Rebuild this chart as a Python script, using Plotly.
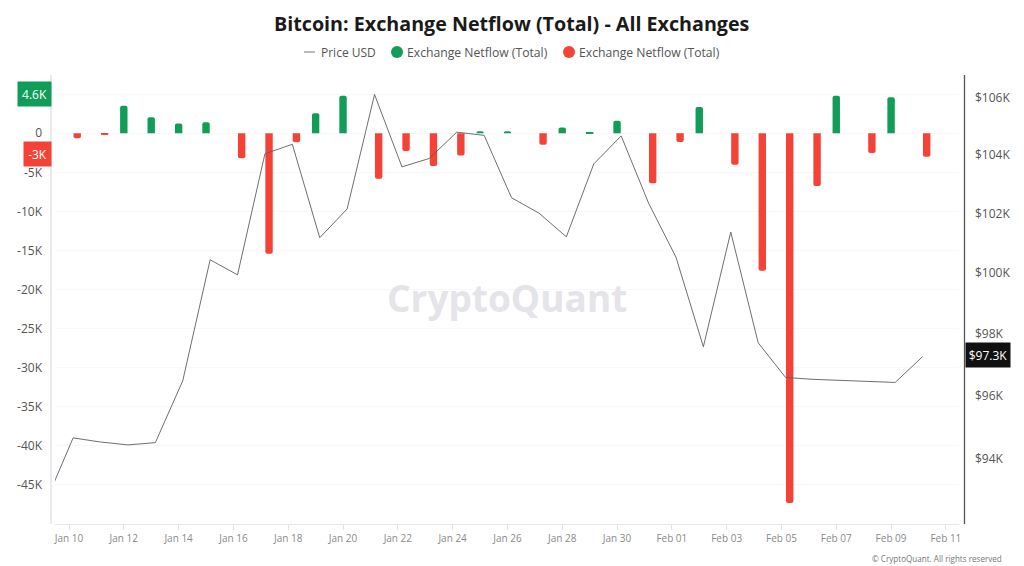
import plotly.graph_objects as go

# Daily data, first row only exists so the price line runs off the left edge
dates = [
    "2025-01-09", "2025-01-10", "2025-01-11", "2025-01-12", "2025-01-13", "2025-01-14", "2025-01-15",
    "2025-01-16", "2025-01-17", "2025-01-18", "2025-01-19", "2025-01-20", "2025-01-21", "2025-01-22",
    "2025-01-23", "2025-01-24", "2025-01-25", "2025-01-26", "2025-01-27", "2025-01-28", "2025-01-29",
    "2025-01-30", "2025-01-31", "2025-02-01", "2025-02-02", "2025-02-03", "2025-02-04", "2025-02-05",
    "2025-02-06", "2025-02-07", "2025-02-08", "2025-02-09", "2025-02-10",
]
price_k = [
    92.67, 94.67, 94.54, 94.45, 94.52, 96.48, 100.44, 99.94, 104.04, 104.37, 101.18, 102.15, 106.11,
    103.59, 103.88, 104.79, 104.68, 102.53, 102.01, 101.21, 103.69, 104.66, 102.35, 100.53, 97.58,
    101.37, 97.71, 96.59, 96.53, 96.49, 96.46, 96.43, 97.26,
]
netflow_pos_k = [
    None, None, None, 3.53, 2.05, 1.23, 1.41, None, None, None, 2.56, 4.81, None, None, None, None,
    0.26, 0.26, None, 0.72, 0.08, 1.61, None, None, 3.36, None, None, None, None, 4.81, None, 4.6, None,
]
netflow_neg_k = [
    None, -0.64, -0.18, None, None, None, None, -3.2, -15.43, -1.15, None, None, -5.84, -2.26, -4.18,
    -2.86, None, None, -1.46, None, None, None, -6.39, -1.11, None, -4.02, -17.6, -47.3, -6.74, None,
    -2.52, None, -3.0,
]
left_ticks = [5, 0, -5, -10, -15, -20, -25, -30, -35, -40, -45]
left_labels = ["", "0", "-5K", "-10K", "-15K", "-20K", "-25K", "-30K", "-35K", "-40K", "-45K"]
right_ticks = [94, 96, 98, 100, 102, 104, 106]
right_labels = ["$94K", "$96K", "$98K", "$100K", "$102K", "$104K", "$106K"]

GREEN = "#0F9D58"
RED = "#F44336"
FONT = "Open Sans"

W, H = 1024, 566
L, R, T, B = 55, 959, 75, 524


# helpers to place the furniture by pixel
def px(x):
    return (x - L) / (R - L)


def py(y):
    return (B - y) / (B - T)


# data sits a few hours after midnight, so the grouped bars land either side of it
x_vals = [d + " 03:36" for d in dates]

fig = go.Figure()
fig.add_trace(go.Bar(x=x_vals, y=netflow_pos_k, marker=dict(color=GREEN, cornerradius=2, line_width=0),
                     name="Exchange Netflow (Total)", yaxis="y"))
fig.add_trace(go.Bar(x=x_vals, y=netflow_neg_k, marker=dict(color=RED, cornerradius=2, line_width=0),
                     name="Exchange Netflow (Total)", yaxis="y"))
fig.add_trace(go.Scatter(x=x_vals, y=price_k, mode="lines", line=dict(color="#5f5f5f", width=0.9),
                         name="Price USD", yaxis="y2"))

annotations = [
    dict(x=512, y=23, text="<b>Bitcoin: Exchange Netflow (Total) - All Exchanges</b>", size=19.7, color="#1a1a1a"),
    dict(x=348, y=52, text="Price USD", size=12, color="#555555"),
    dict(x=477.5, y=52, text="Exchange Netflow (Total)", size=12.2, color="#555555"),
    dict(x=649.5, y=52, text="Exchange Netflow (Total)", size=12.2, color="#555555"),
    dict(x=507, y=297, text="<b>CryptoQuant</b>", size=37, color="#e4e4e9"),
    dict(x=1004, y=558, text="© CryptoQuant. All rights reserved", size=8.1, color="#777777", xanchor="right"),
]
anns = []
for a in annotations:
    anns.append(dict(xref="paper", yref="paper", x=px(a["x"]), y=py(a["y"]), text=a["text"], showarrow=False,
                     xanchor=a.get("xanchor", "center"), yanchor="middle",
                     font=dict(family=FONT, size=a["size"], color=a["color"])))

# value tags on the axes
tags = [
    dict(x=34.5, y=94, w=33, h=24, text="4.6K", bg=GREEN),
    dict(x=37.5, y=154, w=27, h=24, text="-3K", bg=RED),
    dict(x=988, y=355, w=44, h=24, text="$97.3K", bg="#111111"),
]
for t in tags:
    anns.append(dict(xref="paper", yref="paper", x=px(t["x"]), y=py(t["y"]), text=t["text"], showarrow=False,
                     width=t["w"], height=t["h"], bgcolor=t["bg"], borderpad=0, xanchor="center", yanchor="middle",
                     align="center", valign="middle", font=dict(family=FONT, size=12, color="white")))

shapes = [
    # left and right axis rails sit slightly outside the plot area
    dict(type="line", xref="paper", yref="paper", x0=px(51), x1=px(51), y0=py(T), y1=py(B),
         line=dict(color="#e2e2ec", width=1.5)),
    dict(type="line", xref="paper", yref="paper", x0=px(964.5), x1=px(964.5), y0=py(T), y1=py(B),
         line=dict(color="#555555", width=1.3)),
    # legend keys
    dict(type="line", xref="paper", yref="paper", x0=px(304), x1=px(315), y0=py(52), y1=py(52),
         line=dict(color="#777777", width=1)),
    dict(type="circle", xref="paper", yref="paper", x0=px(391), x1=px(403), y0=py(46), y1=py(58),
         fillcolor=GREEN, line_width=0),
    dict(type="circle", xref="paper", yref="paper", x0=px(563), x1=px(575), y0=py(46), y1=py(58),
         fillcolor=RED, line_width=0),
]

fig.update_layout(
    width=W, height=H,
    margin=dict(l=L, r=W - R, t=T, b=H - B, autoexpand=False),
    paper_bgcolor="white", plot_bgcolor="white",
    font=dict(family=FONT, size=12, color="#555555"),
    showlegend=False,
    barmode="group", bargap=0.4, bargroupgap=0.1,
    annotations=anns, shapes=shapes,
    xaxis=dict(
        type="date", range=["2025-01-09 11:44", "2025-02-11 11:30"],
        tick0="2025-01-10", dtick=172800000, tickformat="%b %d",
        ticks="outside", ticklen=5, tickcolor="#e2e2ec", tickfont=dict(size=10, color="#8a8a8a"),
        showline=True, linecolor="#e6e6ee", linewidth=1, showgrid=False, zeroline=False,
    ),
    yaxis=dict(
        range=[-50, 7.45], tickvals=left_ticks, ticktext=left_labels, ticks="", ticklabelstandoff=12,
        tickfont=dict(size=12, color="#555555"), gridcolor="#f8f8f8", gridwidth=1,
        zeroline=False, showline=False,
    ),
    yaxis2=dict(
        type="log", overlaying="y", side="right", range=[1.96379, 2.02857],
        tickvals=right_ticks, ticktext=right_labels, ticks="", ticklabelstandoff=15,
        tickfont=dict(size=12, color="#555555"), showgrid=False, zeroline=False, showline=False,
    ),
)

# drop the page's default body margin so the figure sits at the window corner
fig.write_html("out.html", config={"displayModeBar": False},
               post_script="document.body.style.margin='0';document.body.style.overflow='hidden';")
